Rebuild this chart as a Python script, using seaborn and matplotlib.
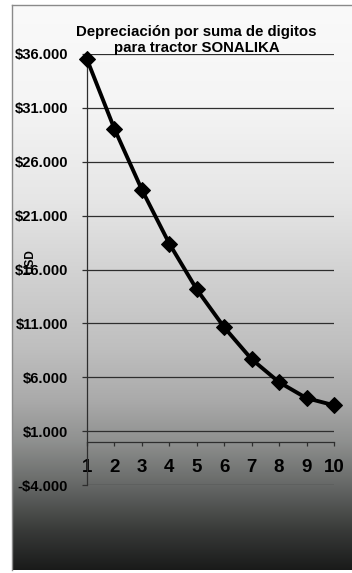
import numpy as np
import matplotlib
matplotlib.use("Agg")
import matplotlib.pyplot as plt
import seaborn as sns
from matplotlib.ticker import FuncFormatter

# Book value of the tractor at the end of each year (USD)
years = [1, 2, 3, 4, 5, 6, 7, 8, 9, 10]
book_value = [35500, 29050, 23400, 18400, 14150, 10630, 7670, 5540, 4060, 3400]
y_ticks = [-4000, 1000, 6000, 11000, 16000, 21000, 26000, 31000, 36000]
title_lines = ["Depreciación por suma de digitos", "para tractor SONALIKA"]
y_label = "USD"

sns.set_theme(style="white")
plt.rcParams["font.family"] = ["Liberation Sans", "DejaVu Sans"]
plt.rcParams["font.weight"] = "bold"

W, H = 352, 573
fig = plt.figure(figsize=(W / 100, H / 100), dpi=100)
fig.patch.set_facecolor("white")

# Framed background panel with a light-to-dark vertical gradient
top_px, bot_px, left_px = 5, 570, 12
bg = fig.add_axes([left_px / W, (H - bot_px) / H, (W - left_px) / W, (bot_px - top_px) / H])
rows = np.arange(top_px, bot_px)
grad_px = [5, 100, 200, 280, 350, 400, 440, 485, 530, 570]
grad_lv = [250, 245, 230, 208, 190, 170, 145, 104, 58, 26]
lv = np.interp(rows, grad_px, grad_lv) / 255.0
tint = np.clip((rows - 400) / 170.0, 0, 1)
img = np.stack([lv * (1 - 0.04 * tint), lv, lv * (1 - 0.03 * tint)], axis=-1)[:, None, :]
bg.imshow(img, aspect="auto", extent=[0, 1, 0, 1], interpolation="bilinear")
bg.set_xticks([])
bg.set_yticks([])
for side in ("right", "bottom"):
    bg.spines[side].set_visible(False)
for side in ("top", "left"):
    bg.spines[side].set_color("#8a8a8a")
    bg.spines[side].set_linewidth(1.0)
bg.set_zorder(0)

# Main plotting axes
ax = fig.add_axes([87 / W, (H - 485) / H, 247 / W, 431 / H])
ax.set_facecolor("none")
ax.set_zorder(1)

sns.lineplot(x=years, y=book_value, ax=ax, color="black", linewidth=2.8,
             marker="D", markersize=8.5, markeredgecolor="black",
             markerfacecolor="black", clip_on=False, zorder=5)

ax.set_xlim(1, 10)
ax.set_ylim(-4000, 36000)
ax.set_yticks(y_ticks)
ax.set_xticks(years)


def money(v, _pos):
    s = f"${abs(int(v)):,}".replace(",", ".")
    return "-" + s if v < 0 else s


ax.yaxis.set_major_formatter(FuncFormatter(money))
ax.yaxis.grid(True, color="#2e2e2e", linewidth=0.9)
ax.xaxis.grid(False)

for side in ("top", "right"):
    ax.spines[side].set_visible(False)
ax.spines["left"].set_color("#2e2e2e")
ax.spines["left"].set_linewidth(0.9)
ax.spines["bottom"].set_position(("data", 0))
ax.spines["bottom"].set_color("#2e2e2e")
ax.spines["bottom"].set_linewidth(0.9)

ax.tick_params(axis="y", direction="out", length=3.6, width=0.9, color="#2e2e2e",
               pad=10, labelsize=10.6, labelcolor="black", left=True)
ax.tick_params(axis="x", direction="out", length=3.0, width=0.9, color="#2e2e2e",
               pad=9, labelsize=13.5, labelcolor="black", bottom=True)
ax.set_xlabel("")
ax.set_ylabel("")

fig.text(196 / W, 1 - 32 / H, title_lines[0], ha="center", va="center",
         fontsize=10.8, fontweight="bold", color="black")
fig.text(197 / W, 1 - 48 / H, title_lines[1], ha="center", va="center",
         fontsize=10.8, fontweight="bold", color="black")
fig.text(30 / W, 1 - 262 / H, y_label, rotation=90, ha="center", va="center",
         fontsize=8.5, fontweight="bold", color="black")

fig.savefig("out.png", dpi=100)
